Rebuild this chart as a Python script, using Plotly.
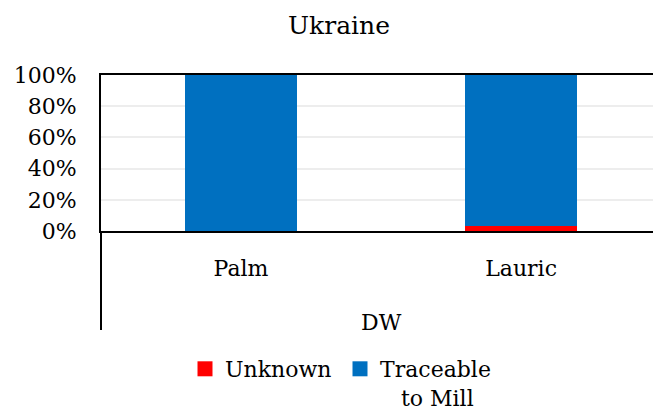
import plotly.graph_objects as go

categories = ["Palm", "Lauric"]
group_label = "DW"
unknown = [0, 3]
traceable = [100, 97]
series_names = ["Unknown", "Traceable<br>\u00a0\u00a0\u00a0to Mill"]
series_colors = ["#FF0000", "#0070C0"]
y_ticks = [0, 20, 40, 60, 80, 100]
y_ticklabels = ["0%", "20%", "40%", "60%", "80%", "100%"]

FONT = "DejaVu Serif"
W, H = 653, 412
PLOT_TOP, PLOT_BOTTOM, PLOT_LEFT = 75, 231, 101
PH = PLOT_BOTTOM - PLOT_TOP
PW = W - PLOT_LEFT

fig = go.Figure()
for vals, name, col in zip([unknown, traceable], series_names, series_colors):
    fig.add_trace(go.Bar(x=categories, y=vals, name=name, showlegend=False,
                         marker=dict(color=col, line=dict(width=0))))
# legend entries with larger square swatches
for name, col in zip(series_names, series_colors):
    fig.add_trace(go.Scatter(x=[None], y=[None], mode="markers", name=name,
                             marker=dict(symbol="square", size=15, color=col)))

fig.update_layout(
    barmode="stack",
    bargap=0.6,
    width=W, height=H,
    margin=dict(l=PLOT_LEFT, r=0, t=PLOT_TOP, b=H - PLOT_BOTTOM, autoexpand=False),
    paper_bgcolor="white", plot_bgcolor="white",
    font=dict(family=FONT, size=22, color="black"),
    title=dict(text="Ukraine", x=339 / W, xanchor="center",
               y=1 - 25 / H, yanchor="middle",
               font=dict(family=FONT, size=25, color="black")),
    showlegend=True,
    legend=dict(orientation="h", x=84 / PW, xanchor="left",
                y=-117 / PH, yanchor="top", valign="top",
                font=dict(family=FONT, size=22, color="black"),
                entrywidth=110, traceorder="normal"),
    xaxis=dict(range=[-0.5, 1.471], showline=True, linecolor="black", linewidth=2,
               mirror=True, showgrid=False, ticks="", ticklabelstandoff=17,
               tickfont=dict(family=FONT, size=22, color="black"), fixedrange=True),
    yaxis=dict(range=[0, 100], tickvals=y_ticks, ticktext=y_ticklabels,
               showline=True, linecolor="black", linewidth=2,
               showgrid=True, gridcolor="#EDEDED", gridwidth=1.5,
               ticks="", ticklabelstandoff=18, zeroline=False,
               tickfont=dict(family=FONT, size=22, color="black")),
)

fig.add_shape(type="line", xref="paper", yref="paper", x0=0, x1=0,
              y0=0, y1=-99 / PH, line=dict(color="black", width=2))
fig.add_annotation(text=group_label, xref="x", x=0.5, yref="paper",
                   y=-91 / PH, yanchor="middle", showarrow=False,
                   font=dict(family=FONT, size=22, color="black"))

fig.write_html("out.html", config={"displayModeBar": False},
               post_script="document.body.style.margin='0';"
                           "document.body.style.overflow='hidden';")
